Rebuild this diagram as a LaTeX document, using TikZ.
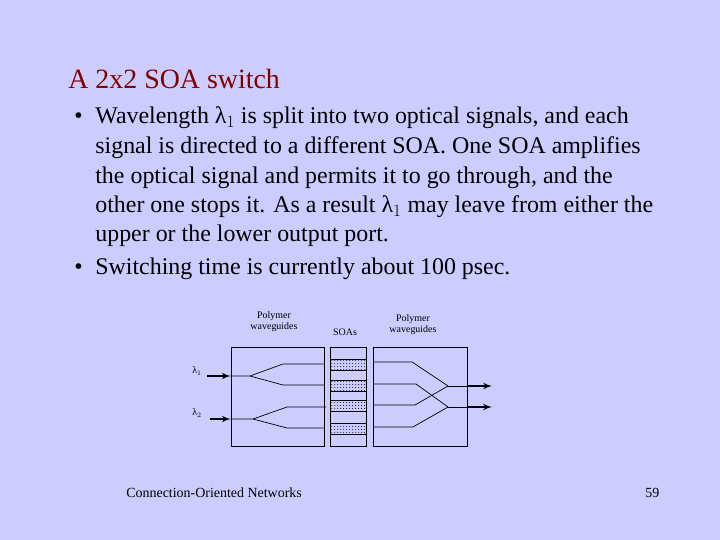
\documentclass[tikz,border=0pt]{standalone}
\usepackage{fontspec}
\setmainfont{Liberation Serif}
\usetikzlibrary{arrows,patterns}
\definecolor{slidebg}{RGB}{204,204,255}
\definecolor{titlered}{RGB}{128,0,0}
\tikzstyle{txt} = [anchor=base west, inner sep=0pt, font=\fontsize{24}{24}\selectfont]
\tikzstyle{small} = [align=center, inner sep=0pt, font=\fontsize{10}{11}\selectfont]
\tikzstyle{soa} = [draw, pattern=dots, minimum width=36bp, minimum height=11bp, inner sep=0pt]
\newcommand{\lam}[1]{λ$_{#1}$}
\begin{document}
\begin{tikzpicture}[x=1bp, y=-1bp, >=latex', line width=0.7pt]
  \fill[slidebg] (0,0) rectangle (720,540);
  \node[txt, text=titlered, font=\fontsize{28}{28}\selectfont] (title) at (68,89) {A 2x2 SOA switch};
  \node[txt] (b1) at (74,124) {\textbullet};
  \node[txt] (l1) at (95,124) {Wavelength \lam{1} is split into two optical signals, and each};
  \node[txt] (l2) at (95,154) {signal is directed to a different SOA. One SOA amplifies};
  \node[txt] (l3) at (95,184) {the optical signal and permits it to go through, and the};
  \node[txt] (l4) at (95,213) {other one stops it. As a result \lam{1} may leave from either the};
  \node[txt] (l5) at (95,242) {upper or the lower output port.};
  \node[txt] (b2) at (74,275) {\textbullet};
  \node[txt] (l6) at (95,275) {Switching time is currently about 100 psec.};

  % boxes
  \node[draw, minimum width=93bp, minimum height=99bp, inner sep=0pt] (inbox) at (277.5,396.5) {};
  \node[draw, minimum width=36bp, minimum height=99bp, inner sep=0pt] (strip) at (348,396.5) {};
  \node[draw, minimum width=94bp, minimum height=99bp, inner sep=0pt] (outbox) at (420,397) {};
  \node[soa] (s1) at (348,364.5) {};
  \node[soa] (s2) at (348,386) {};
  \node[soa] (s3) at (348,406) {};
  \node[soa] (s4) at (348,428.5) {};

  \node[small] (pl) at (274,322) {Polymer\\waveguides};
  \node[small] (sl) at (345,332) {SOAs};
  \node[small] (pr) at (413,325) {Polymer\\waveguides};
  \node[small] (la1) at (197,371) {\lam{1}};
  \node[small] (la2) at (197,413) {\lam{2}};

  % splitters
  \coordinate (i1) at (207,376); \coordinate (j1) at (250,376);
  \coordinate (i2) at (210,419); \coordinate (j2) at (253,419);
  \draw[->, line width=2pt] (i1) -- (inbox.west |- i1);
  \draw[->, line width=2pt] (i2) -- (inbox.west |- i2);
  \draw (inbox.west |- i1) -- (j1) -- (283,364) -- (324,364);
  \draw (j1) -- (283,385) -- (324,385);
  \draw (inbox.west |- i2) -- (j2) -- (287,407) -- (326,407);
  \draw (j2) -- (287,428) -- (324,428);

  % combiners
  \coordinate (o1) at (448,386); \coordinate (o2) at (448,407);
  \draw (374,362) -- (412,362) -- (o1);
  \draw (374,384) -- (416,384) -- (o2);
  \draw (374,405) -- (415,405) -- (o1);
  \draw (374,427) -- (413,427) -- (o2);
  \draw (o1) -- (outbox.east |- o1);
  \draw (o2) -- (outbox.east |- o2);
  \draw[->, line width=2pt] (outbox.east |- o1) -- (492,386);
  \draw[->, line width=2pt] (outbox.east |- o2) -- (492,407);

  \node[txt, font=\fontsize{14}{14}\selectfont] (foot) at (126,497) {Connection-Oriented Networks};
  \node[txt, font=\fontsize{14}{14}\selectfont] (num) at (645,497) {59};
\end{tikzpicture}
\end{document}
